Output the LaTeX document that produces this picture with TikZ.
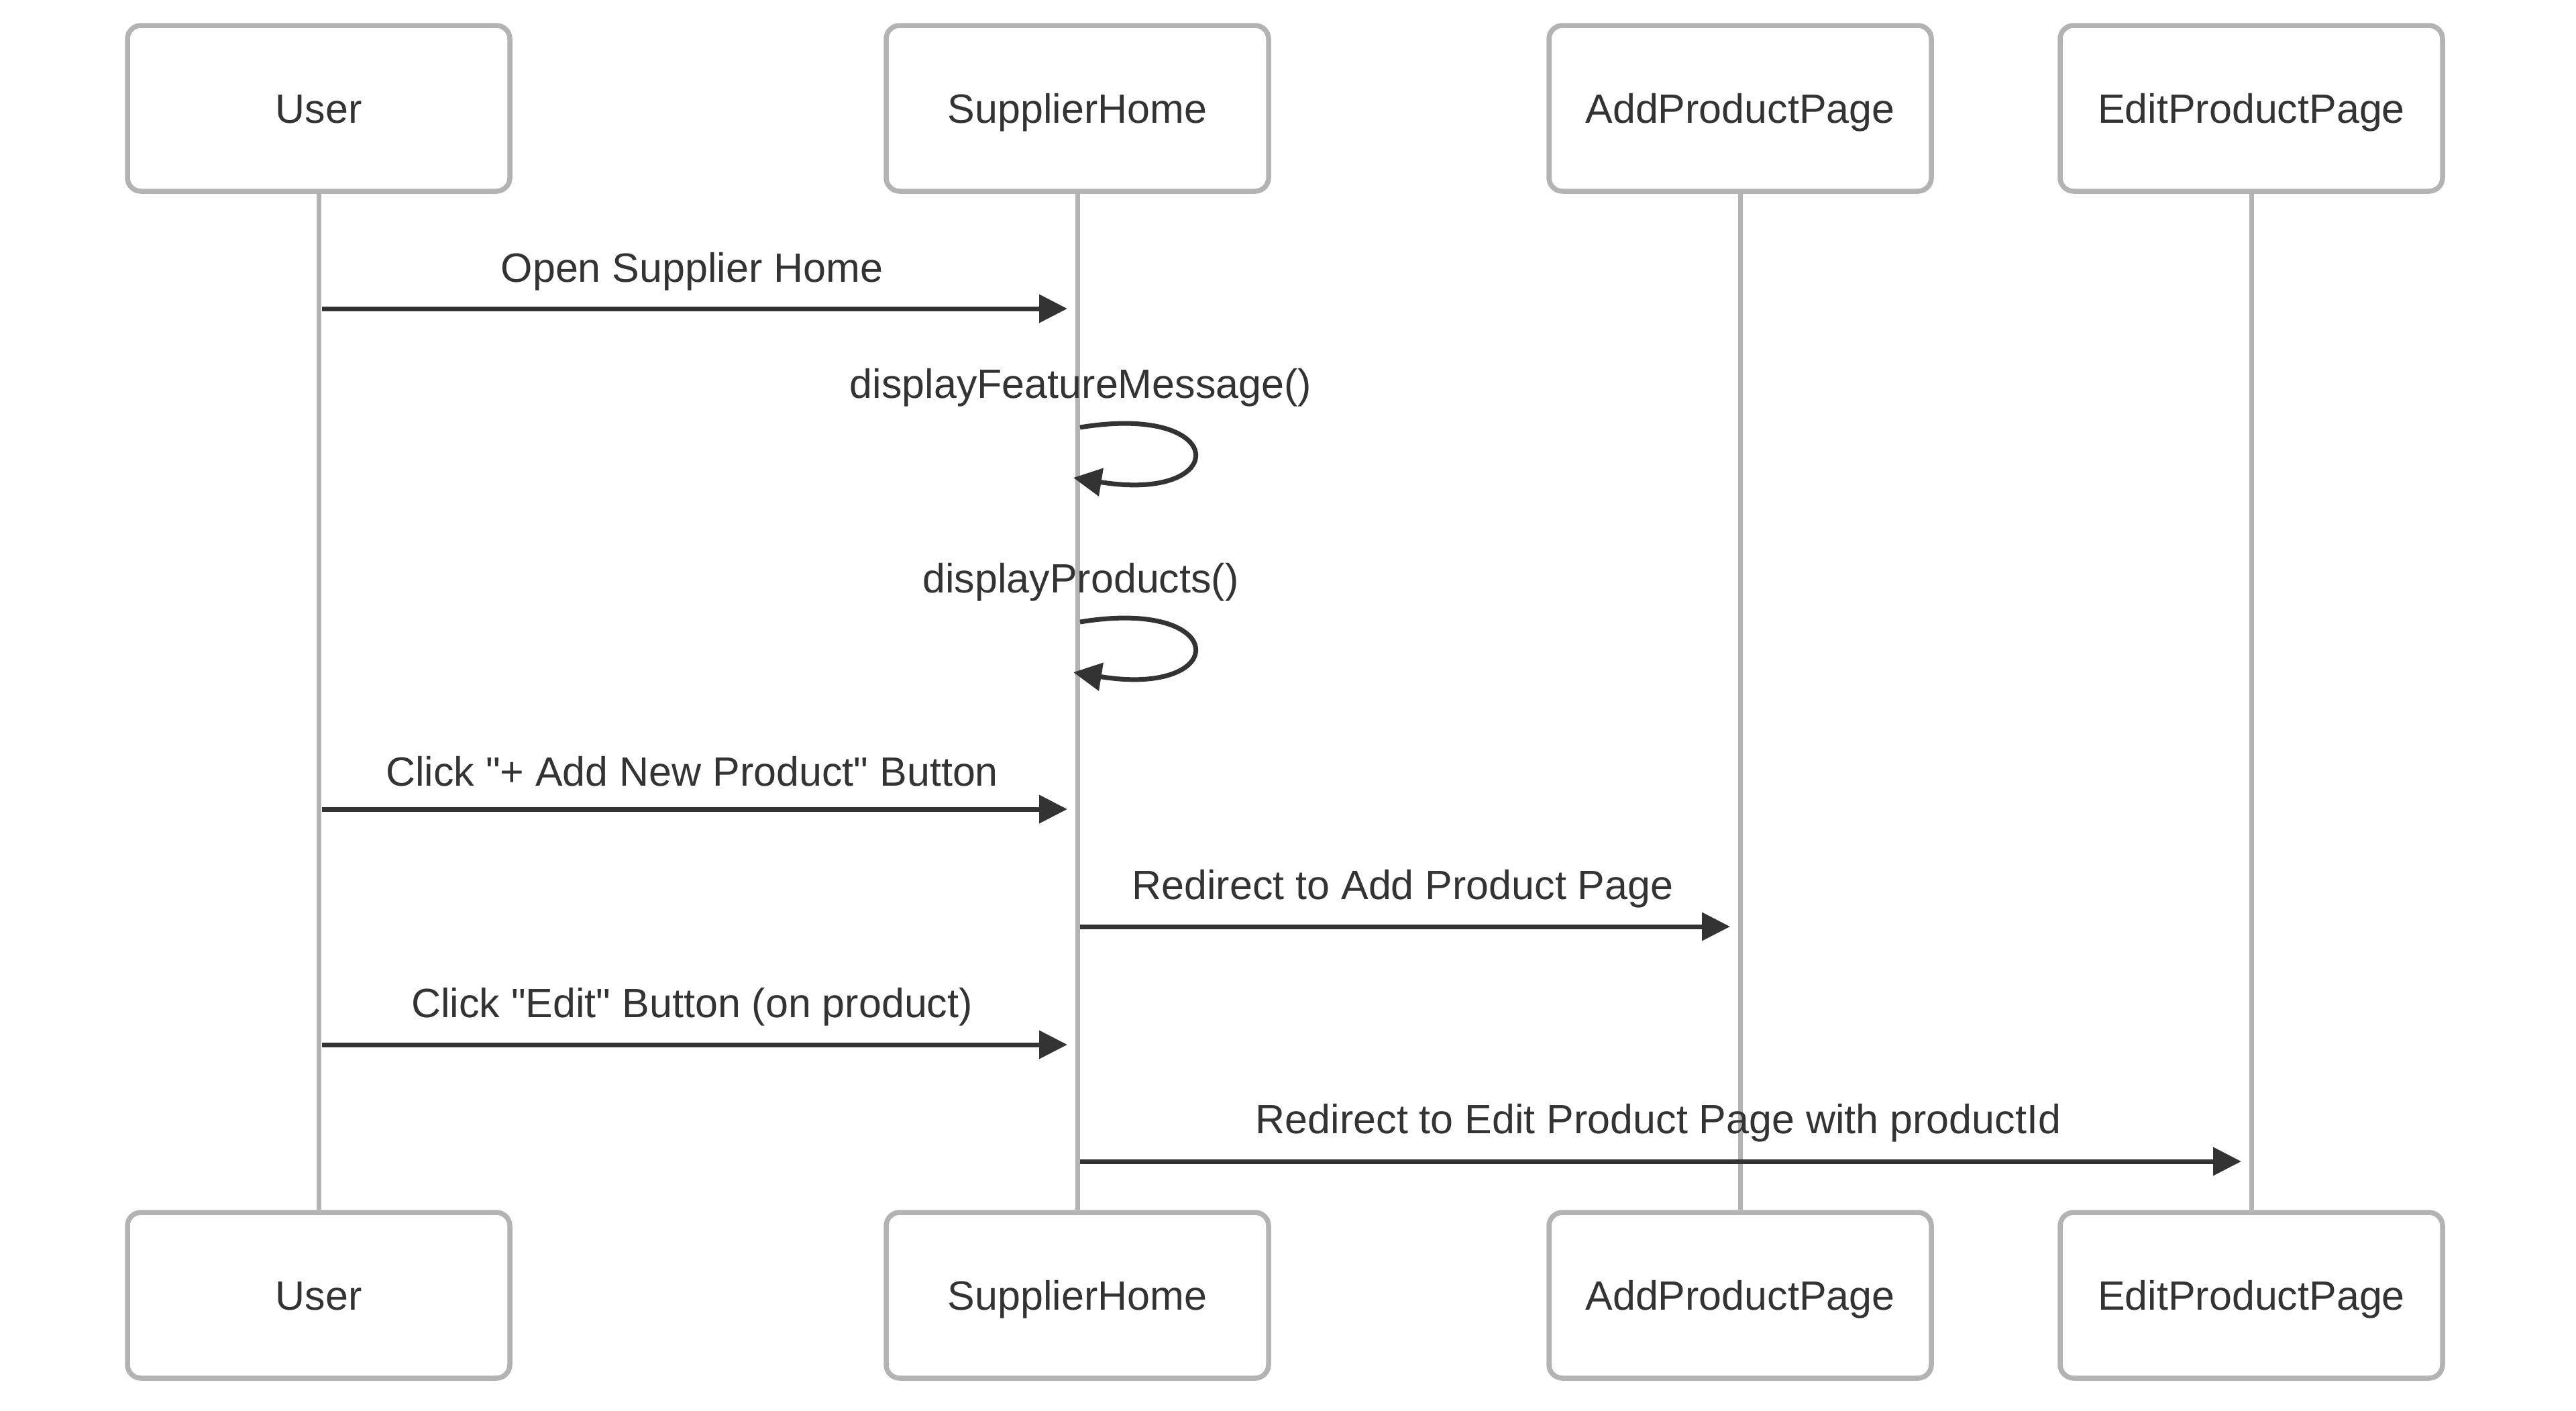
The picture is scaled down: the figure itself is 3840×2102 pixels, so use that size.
\documentclass[tikz,border=0pt]{standalone}
\usepackage{fontspec}
\setmainfont{Liberation Sans}
\usetikzlibrary{arrows.meta,calc}
\definecolor{ink}{HTML}{333333}
\definecolor{edgegray}{HTML}{B3B3B3}
\tikzset{
  actor/.style={draw=edgegray, line width=7.5pt, rounded corners=20pt, fill=white,
    minimum width=570pt, minimum height=247pt, inner sep=0pt, text=ink,
    font=\fontsize{61}{72}\selectfont, text height=43pt, text depth=0pt},
  life/.style={draw=edgegray, line width=7pt},
  msg/.style={draw=ink, line width=7pt, -{Triangle[length=42pt,width=41pt]}},
  lbl/.style={text=ink, font=\fontsize{61}{72}\selectfont, anchor=base, inner sep=0pt}
}
\begin{document}
\begin{tikzpicture}[x=1pt,y=-1pt]
\useasboundingbox (0,0) rectangle (3840,2102);
% actors (top)
\node[actor] (uT) at (475,161.5) {User};
\node[actor] (sT) at (1606,161.5) {SupplierHome};
\node[actor] (aT) at (2594,161.5) {AddProductPage};
\node[actor] (eT) at (3356,161.5) {EditProductPage};
% actors (bottom)
\node[actor] (uB) at (475,1930.5) {User};
\node[actor] (sB) at (1606,1930.5) {SupplierHome};
\node[actor] (aB) at (2594,1930.5) {AddProductPage};
\node[actor] (eB) at (3356,1930.5) {EditProductPage};
% lifelines
\draw[life] (uT.south) -- (uB.north);
\draw[life] (sT.south) -- (sB.north);
\draw[life] (aT.south) -- (aB.north);
\draw[life] (eT.south) -- (eB.north);
% messages
\draw[msg, shorten <=5pt, shorten >=15pt] (uT.south |- 0,460) -- (sT.south |- 0,460)
  node[lbl, midway, yshift=40pt, xshift=-9pt] {Open Supplier Home};
\node[lbl] (l2) at ($(sT.south |- 0,593)+(5,0)$) {displayFeatureMessage()};
\draw[msg] (sT.south |- 0,637) ++(4,0) .. controls +(225,-37) and +(235,38) .. ($(sT.south |- 0,712)+(-6,0)$);
\node[lbl] (l3) at ($(sT.south |- 0,883)+(5,0)$) {displayProducts()};
\draw[msg] (sT.south |- 0,927) ++(4,0) .. controls +(225,-37) and +(235,38) .. ($(sT.south |- 0,1002)+(-6,0)$);
\draw[msg, shorten <=5pt, shorten >=15pt] (uT.south |- 0,1206) -- (sT.south |- 0,1206)
  node[lbl, midway, yshift=35pt, xshift=-9pt] {Click \textquotedbl+ Add New Product\textquotedbl{} Button};
\draw[msg, shorten <=4pt, shorten >=15pt] (sT.south |- 0,1381) -- (aT.south |- 0,1381)
  node[lbl, midway, yshift=41pt, xshift=-9pt] {Redirect to Add Product Page};
\draw[msg, shorten <=5pt, shorten >=15pt] (uT.south |- 0,1557) -- (sT.south |- 0,1557)
  node[lbl, midway, yshift=41pt, xshift=-9pt] {Click \textquotedbl Edit\textquotedbl{} Button (on product)};
\draw[msg, shorten <=4pt, shorten >=15pt] (sT.south |- 0,1731) -- (eT.south |- 0,1731)
  node[lbl, midway, yshift=42pt, xshift=-9pt] {Redirect to Edit Product Page with productId};
\end{tikzpicture}
\end{document}
